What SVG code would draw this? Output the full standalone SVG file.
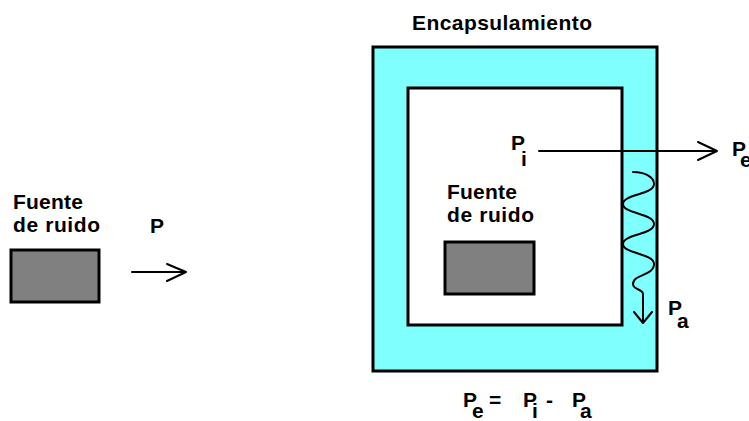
<svg xmlns="http://www.w3.org/2000/svg" width="749" height="421" viewBox="0 0 749 421">
<style>
text{font-family:"Liberation Sans",Arial,sans-serif;font-weight:bold;font-size:21px;fill:#000}
.box{fill:#808080;stroke:#000;stroke-width:3}
.ln{fill:none;stroke:#000;stroke-width:2;stroke-linecap:round;stroke-linejoin:round}
</style>
<rect width="749" height="421" fill="#fff"/>
<g id="encapsulamiento">
<rect x="373" y="47" width="284" height="324" fill="#80ffff" stroke="#000" stroke-width="3"/>
<rect x="408" y="88" width="214" height="237" fill="#fff" stroke="#000" stroke-width="3"/>
<text x="412" y="30" textLength="180" lengthAdjust="spacing">Encapsulamiento</text>
</g>
<g id="fuente-externa">
<rect class="box" x="11" y="250" width="88" height="52"/>
<text x="13" y="209" textLength="70" lengthAdjust="spacing">Fuente</text>
<text x="13" y="232" textLength="87" lengthAdjust="spacing">de ruido</text>
</g>
<g id="fuente-interna">
<rect class="box" x="445" y="242" width="89" height="52"/>
<text x="447" y="199" textLength="70" lengthAdjust="spacing">Fuente</text>
<text x="447" y="222" textLength="87" lengthAdjust="spacing">de ruido</text>
</g>
<g id="connectors">
<path class="ln" d="M132,272 L186,272 M167,264 L186,272 L167,281"/>
<path class="ln" d="M539,151 L717,151 M698,142 L717,151 L698,160"/>
<path class="ln" d="M633,172 C645,172 654,177 654,184 C654,195 623,194 623,204 C623,214 654,213 654,224 C654,235 623,234 623,244 C623,254 654,253 654,264 C654,276 633,274 633,284 C633,290 643,289 643,294 L643,323 M634,312 L643,323 L652,312"/>
</g>
<g id="labels">
<text x="150" y="233">P</text>
<text x="511" y="150">P<tspan x="521" dy="16">i</tspan></text>
<text x="732" y="156">P<tspan x="740" dy="11">e</tspan></text>
<text x="668" y="315">P<tspan x="677" dy="13">a</tspan></text>
</g>
<g id="ecuacion">
<text x="463" y="407">P<tspan x="472" dy="11">e</tspan><tspan x="489" dy="-11">=</tspan></text>
<text x="523" y="407">P<tspan x="532" dy="11">i</tspan><tspan x="546" dy="-11">-</tspan></text>
<text x="572" y="407">P<tspan x="580" dy="11">a</tspan></text>
</g>
</svg>
